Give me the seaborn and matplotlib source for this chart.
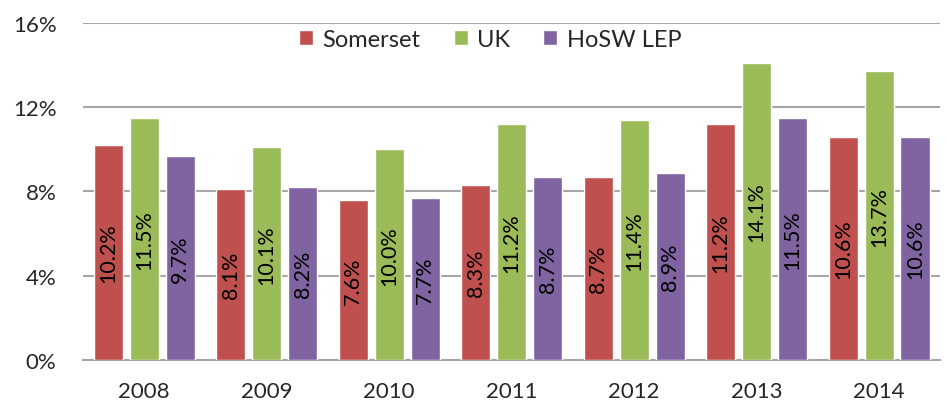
import matplotlib
matplotlib.use("Agg")
import matplotlib.pyplot as plt
import seaborn as sns
import pandas as pd
from matplotlib.ticker import FixedLocator

years = ["2008", "2009", "2010", "2011", "2012", "2013", "2014"]
series = ["Somerset", "UK", "HoSW LEP"]
somerset = [10.2, 8.1, 7.6, 8.3, 8.7, 11.2, 10.6]
uk = [11.5, 10.1, 10.0, 11.2, 11.4, 14.1, 13.7]
hosw = [9.7, 8.2, 7.7, 8.7, 8.9, 11.5, 10.6]
yticks = [0, 4, 8, 12, 16]
colors = ["#C0504D", "#9BBB59", "#8064A2"]

rows = []
for name, vals in zip(series, [somerset, uk, hosw]):
    for y, v in zip(years, vals):
        rows.append({"Year": y, "Series": name, "Value": v})
df = pd.DataFrame(rows)

sns.set_style("white")
plt.rcParams["font.family"] = ["Lato", "DejaVu Sans"]

fig = plt.figure(figsize=(9.46, 4.06), dpi=100)
ax = fig.add_axes([0.0877, 0.1108, 0.9063, 0.8302])

sns.barplot(data=df, x="Year", y="Value", hue="Series", hue_order=series,
            order=years, palette=colors, width=0.88, gap=0.19, ax=ax,
            errorbar=None, saturation=1, zorder=3)

for cont in ax.containers:
    labels = [f"{b.get_height():.1f}%" for b in cont]
    ax.bar_label(cont, labels=labels, label_type="center", rotation=90,
                 fontsize=15.5, color="black")

ax.set_ylim(0, 16)
ax.set_xlim(-0.5, 6.5)
ax.set_yticks(yticks)
ax.set_yticklabels([f"{t}%" for t in yticks])
ax.yaxis.grid(True, color="#A6A6A6", linewidth=1.5, zorder=0)
ax.set_axisbelow(True)
ax.set_xlabel("")
ax.set_ylabel("")
for s in ["left", "right", "top"]:
    ax.spines[s].set_visible(False)
ax.spines["bottom"].set_color("#A6A6A6")
ax.spines["bottom"].set_linewidth(1.5)
ax.tick_params(axis="y", length=0, pad=19, labelsize=16)
ax.tick_params(axis="x", which="major", length=0, pad=15, labelsize=16)
ax.xaxis.set_minor_locator(FixedLocator([i - 0.5 for i in range(len(years) + 1)]))
ax.tick_params(axis="x", which="minor", length=6, width=1.5, color="#A6A6A6", direction="out")

leg = ax.legend(loc="upper center", bbox_to_anchor=(0.475, 1.045), ncol=3, frameon=False,
                fontsize=17, handlelength=0.6, handleheight=0.6, columnspacing=1.4,
                handletextpad=0.4)

fig.savefig("out.png", dpi=100)
